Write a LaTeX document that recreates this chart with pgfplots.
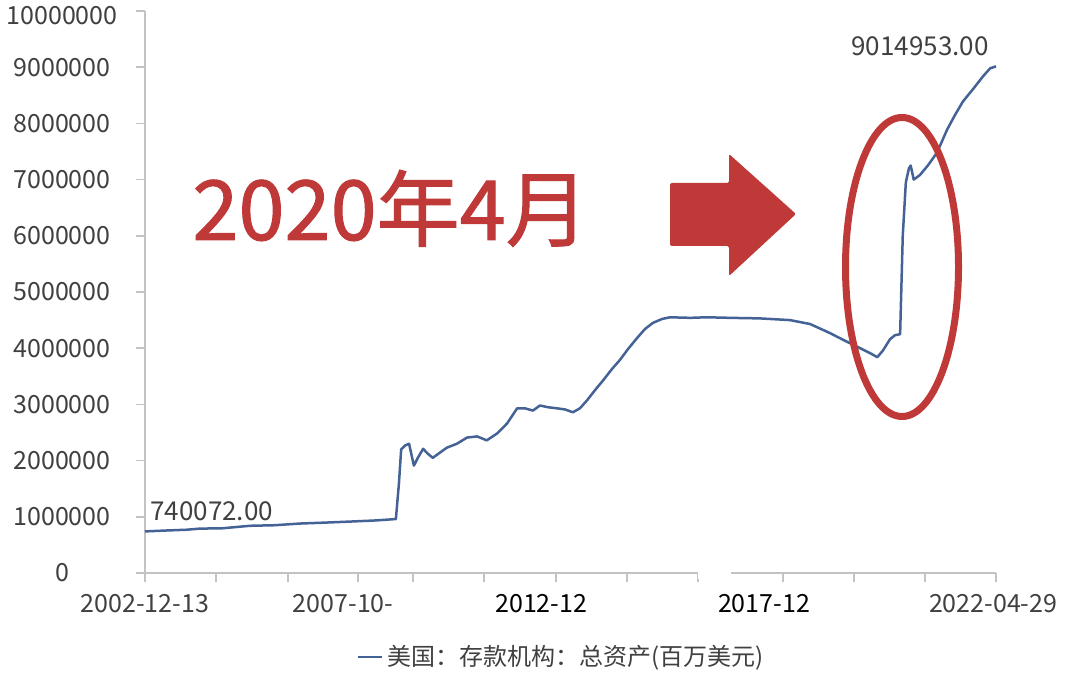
\documentclass[border=0pt]{standalone}
\usepackage{fontspec}
\setmainfont{Noto Sans CJK SC}
\newfontfamily\bigfont{Noto Sans CJK SC}[FakeBold=1.2]
\usepackage{pgfplots}
\usepackage{pgfplotstable}
\pgfplotsset{compat=1.18}

\definecolor{linecol}{RGB}{68,98,150}
\definecolor{annred}{RGB}{190,57,55}
\definecolor{axgray}{RGB}{195,195,195}
\definecolor{txtgray}{RGB}{64,64,64}

% total assets of US depository institutions (millions USD)
\pgfplotstableread{
year value
2002.948 740072
2003.40 755000
2003.90 770000
2004.20 790000
2004.70 795000
2005.34 840000
2005.90 850000
2006.48 880000
2007.00 895000
2007.62 915000
2008.20 935000
2008.66 960000
2008.73 1600000
2008.78 2200000
2008.87 2270000
2008.96 2300000
2009.07 1910000
2009.16 2050000
2009.28 2210000
2009.39 2120000
2009.50 2050000
2009.66 2140000
2009.82 2230000
2010.05 2300000
2010.28 2410000
2010.51 2430000
2010.73 2360000
2010.96 2480000
2011.19 2660000
2011.42 2930000
2011.60 2930000
2011.78 2890000
2011.94 2980000
2012.12 2950000
2012.33 2930000
2012.51 2910000
2012.69 2860000
2012.85 2930000
2013.01 3070000
2013.19 3250000
2013.38 3430000
2013.58 3630000
2013.76 3790000
2013.94 3980000
2014.15 4180000
2014.33 4340000
2014.51 4450000
2014.72 4520000
2014.90 4550000
2015.36 4540000
2015.74 4550000
2016.27 4540000
2016.95 4530000
2017.63 4500000
2018.09 4430000
2018.54 4270000
2018.89 4130000
2019.23 4000000
2019.46 3910000
2019.62 3840000
2019.75 3960000
2019.91 4160000
2020.02 4230000
2020.14 4250000
2020.20 6000000
2020.27 6950000
2020.34 7200000
2020.38 7250000
2020.45 7000000
2020.59 7080000
2020.77 7250000
2020.98 7480000
2021.21 7890000
2021.39 8150000
2021.57 8390000
2021.80 8610000
2022.03 8840000
2022.19 8980000
2022.323 9014953
}\assets

\begin{document}
\begin{tikzpicture}
\path[use as bounding box] (0pt,0pt) rectangle (540pt,336.5pt);
\begin{axis}[
  at={(72.5pt,50pt)}, anchor=south west,
  scale only axis, width=425.5pt, height=281pt,
  xmin=2002.948, xmax=2022.323, ymin=0, ymax=10000000,
  axis x line=bottom, axis y line=left,
  axis line style={-, axgray, line width=0.8pt},
  x axis line style={shorten <=-4.5pt},
  tick align=outside, major tick length=4.5pt,
  every tick/.style={axgray, line width=0.8pt},
  ytick={0,1000000,2000000,3000000,4000000,5000000,6000000,7000000,8000000,9000000},
  yticklabels={0,1000000,2000000,3000000,4000000,5000000,6000000,7000000,8000000,9000000},
  extra y ticks={10000000},
  extra y tick labels={10000000},
  extra y tick style={yticklabel style={yshift=-2.2pt}},
  yticklabel style={anchor=center, inner sep=0pt, xshift=-37pt},
  xtick={2002.948,2004.565,2006.204,2007.798,2009.050,2010.667,2012.306,2013.923,2015.539,2017.474,2019.091,2020.707,2022.323},
  xticklabels={},
  extra x ticks={2002.948,2007.46,2011.97,2017.04,2022.26},
  extra x tick labels={2002-12-13,2007-10-,\textcolor{black}{2012-12},\textcolor{black}{2017-12},2022-04-29},
  extra x tick style={major tick length=0pt, xticklabel style={yshift=-7pt}},
  ticklabel style={font=\fontsize{12.5}{14}\selectfont, text=txtgray},
  /pgf/number format/assume math mode=true,
  clip=false,
  legend style={at={(rel axis cs:0.49,-0.1495)}, anchor=center, draw=none, fill=none,
    font=\fontsize{12}{14}\selectfont, text=txtgray},
  legend image code/.code={\draw[#1] (0pt,0pt) -- (12pt,0pt);},
]
\addplot[linecol, line width=1.25pt, line join=round] table[x=year, y=value] {\assets};
\addlegendentry{美国：存款机构：总资产(百万美元)}
\node[anchor=west, inner sep=0pt, xshift=2.5pt, yshift=10pt, font=\fontsize{13}{15}\selectfont, text=txtgray]
  at (axis cs:2002.948,740072) {740072.00};
\node[inner sep=0pt, xshift=-38pt, yshift=10pt, font=\fontsize{13}{15}\selectfont, text=txtgray]
  at (axis cs:2022.323,9014953) {9014953.00};
\end{axis}
% gap in the x axis line
\fill[white] (349pt,47pt) rectangle (365.5pt,53pt);
% annotations
\node[anchor=base west, inner sep=0pt, text=annred, font=\bigfont\fontsize{41.5}{48}\selectfont]
  at (96pt,216.5pt) {2020年4月};
\fill[annred, rounded corners=1pt] (335pt,245pt) -- (364.5pt,245pt) -- (364.5pt,259.5pt) -- (398pt,229.5pt)
  -- (364.5pt,198.5pt) -- (364.5pt,213.5pt) -- (335pt,213.5pt) -- cycle;
\draw[annred, line width=3.5pt] (451pt,203pt) ellipse [x radius=28.25pt, y radius=74.75pt];
\end{tikzpicture}
\end{document}
